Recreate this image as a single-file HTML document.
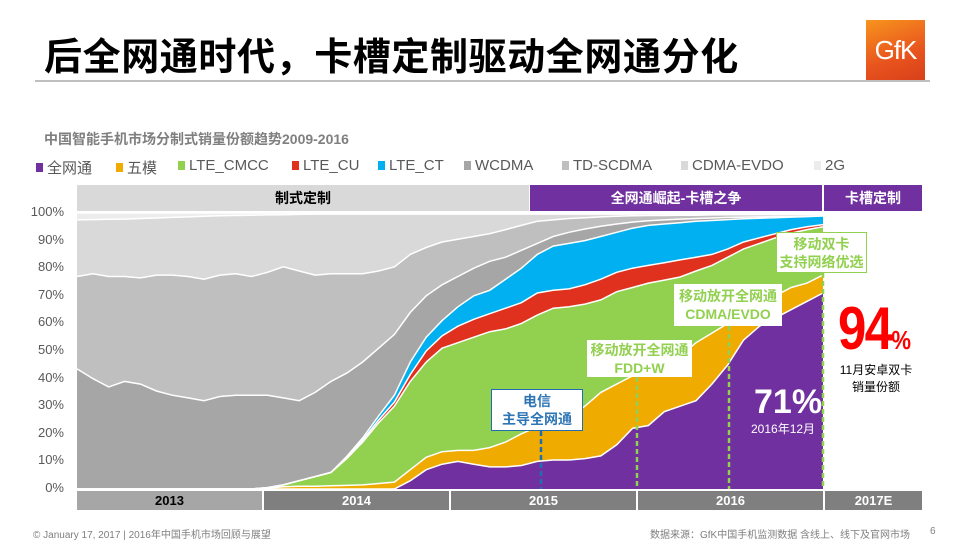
<!DOCTYPE html>
<html><head><meta charset="utf-8">
<style>
*{margin:0;padding:0;box-sizing:border-box}
body{width:960px;height:540px;overflow:hidden;background:#fff;font-family:"Liberation Sans","Noto Sans CJK SC",sans-serif;position:relative}
.abs{position:absolute}
.title{left:44px;top:26px;font-size:38px;font-weight:bold;color:#000;letter-spacing:0.6px;white-space:nowrap}
.rule{left:35px;top:80px;width:895px;height:2px;background:#bfbfbf}
.logo{left:866px;top:20px;width:59px;height:60px;background:linear-gradient(160deg,#f7941d,#e8541e 60%,#d8401a);color:#fff;font-size:26px;display:flex;align-items:center;justify-content:center;letter-spacing:-1px}
.sub{left:44px;top:129px;font-size:14px;font-weight:bold;color:#7f7f7f;white-space:nowrap}
.leg{top:157px;font-size:15px;color:#595959;white-space:nowrap;display:flex;align-items:center}
.leg i{display:inline-block;width:7px;height:9px;margin-right:4px}
.hb{top:185px;height:26px;font-size:14px;font-weight:bold;display:flex;align-items:center;justify-content:center}
.yb{top:491px;height:19px;font-size:13px;font-weight:bold;display:flex;align-items:center;justify-content:center;color:#fff}
.yl{width:40px;text-align:right;left:24px;font-size:13px;color:#595959}
.note{background:#fff;text-align:center;font-weight:bold;font-size:14px;line-height:18px;display:flex;flex-direction:column;justify-content:center}
.foot{top:526px;font-size:10px;color:#7f7f7f;white-space:nowrap}
</style></head><body>
<div class="abs title">后全网通时代，卡槽定制驱动全网通分化</div>
<div class="abs rule"></div>
<div class="abs logo">GfK</div>
<div class="abs sub">中国智能手机市场分制式销量份额趋势2009-2016</div>

<div class="abs leg" style="left:36px"><i style="background:#7030a0"></i>全网通</div>
<div class="abs leg" style="left:116px"><i style="background:#f0ab00"></i>五模</div>
<div class="abs leg" style="left:178px"><i style="background:#92d050"></i>LTE_CMCC</div>
<div class="abs leg" style="left:292px"><i style="background:#e0301e"></i>LTE_CU</div>
<div class="abs leg" style="left:378px"><i style="background:#00b0f0"></i>LTE_CT</div>
<div class="abs leg" style="left:464px"><i style="background:#a6a6a6"></i>WCDMA</div>
<div class="abs leg" style="left:562px"><i style="background:#bfbfbf"></i>TD-SCDMA</div>
<div class="abs leg" style="left:681px"><i style="background:#d9d9d9"></i>CDMA-EVDO</div>
<div class="abs leg" style="left:814px"><i style="background:#ececec"></i>2G</div>

<div class="abs hb" style="left:77px;width:452px;background:#d9d9d9;color:#000">制式定制</div>
<div class="abs hb" style="left:530px;width:292px;background:#7030a0;color:#fff">全网通崛起-卡槽之争</div>
<div class="abs hb" style="left:824px;width:98px;background:#7030a0;color:#fff">卡槽定制</div>

<div class="abs yl" style="top:204px">100%</div>
<div class="abs yl" style="top:232px">90%</div>
<div class="abs yl" style="top:259px">80%</div>
<div class="abs yl" style="top:287px">70%</div>
<div class="abs yl" style="top:314px">60%</div>
<div class="abs yl" style="top:342px">50%</div>
<div class="abs yl" style="top:370px">40%</div>
<div class="abs yl" style="top:397px">30%</div>
<div class="abs yl" style="top:425px">20%</div>
<div class="abs yl" style="top:452px">10%</div>
<div class="abs yl" style="top:480px">0%</div>

<svg class="abs" style="left:0;top:0" width="960" height="540" id="chart"></svg>

<div class="abs yb" style="left:77px;width:185px;background:#a6a6a6;color:#000">2013</div>
<div class="abs yb" style="left:264px;width:185px;background:#7f7f7f">2014</div>
<div class="abs yb" style="left:451px;width:185px;background:#7f7f7f">2015</div>
<div class="abs yb" style="left:638px;width:185px;background:#7f7f7f">2016</div>
<div class="abs yb" style="left:825px;width:97px;background:#7f7f7f">2017E</div>

<div class="abs note" style="left:491px;top:389px;width:92px;height:42px;border:1.5px solid #1f6fb0;color:#2e75b6"><span>电信</span><span>主导全网通</span></div>
<div class="abs note" style="left:587px;top:340px;width:105px;height:37px;color:#92d050"><span>移动放开全网通</span><span>FDD+W</span></div>
<div class="abs note" style="left:674px;top:284px;width:108px;height:42px;color:#92d050"><span>移动放开全网通</span><span>CDMA/EVDO</span></div>
<div class="abs note" style="left:776px;top:232px;width:91px;height:41px;border:1px solid #92d050;color:#92d050"><span>移动双卡</span><span>支持网络优选</span></div>

<div class="abs" style="left:754px;top:383px;font-size:34px;font-weight:bold;color:#fff">71%</div>
<div class="abs" style="left:751px;top:420px;font-size:12px;color:#fff">2016年12月</div>
<div class="abs" style="left:838px;top:294px;font-size:60px;font-weight:bold;color:#ff0000;transform:scaleX(0.85);transform-origin:left;letter-spacing:-2px">94<span style="font-size:26px">%</span></div>
<div class="abs" style="left:826px;top:362px;width:100px;text-align:center;font-size:12px;line-height:17px;color:#000">11月安卓双卡<br>销量份额</div>

<div class="abs foot" style="left:33px">© January 17, 2017 | 2016年中国手机市场回顾与展望</div>
<div class="abs foot" style="left:650px">数据来源：GfK中国手机监测数据 含线上、线下及官网市场</div>
<div class="abs foot" style="left:930px">6</div>

<script>
// months Jan 2013 .. Dec 2016 (48)
const months = Array.from({length:48},(_,i)=>(2013+Math.floor(i/12))+'-'+(i%12+1));
const quanwangtong = [0,0,0,0,0,0,0,0,0,0,0,0,0,0,0,0,0,0,0,0,0,3,7,9,10,9,8,8,8.5,10,10.5,10.5,11,12,16,22,23,28,30,32,38,45,54,59,62,65,68,71];
const wumo = [0,0,0,0,0,0,0,0,0,0,0,0,0.3,0.8,1,1,1.2,1.3,1.5,2,2.5,4,4.5,4.5,4,5,7,9,11.5,12.5,13.5,15.5,19,23,22,19,20,16,18,21,18.5,15,10,8,8,8,6.6,6.5];
const lteCmcc = [0,0,0,0,0,0,0,0,0,0,0,0,0.2,0.7,2,3.5,4.8,9.7,15.5,22,27.5,32,34.5,37.5,39,41,42,41,40,40.5,41.5,40,37,33.5,33.5,32,31.6,31.7,28.8,26,24.5,24,23,22,21,19.7,19.4,17.5];
const lteCu = [0,0,0,0,0,0,0,0,0,0,0,0,0,0,0,0,0,0.3,0.7,1,1.5,2.5,4,4.5,6,6.5,6.5,7.5,7.5,8,6.5,6.5,7,7.5,7,7,6.4,6.3,6.2,5,4,3,2.5,2,1.5,1.3,1,0.8];
const lteCt = [0,0,0,0,0,0,0,0,0,0,0,0,0,0,0,0,0,0.5,0.8,1.5,2.5,4.5,5,5.5,7,8.5,8.5,10.5,12.5,14,16,16.5,16,15.5,14.5,14.5,14.5,14,13.5,13,12.3,10.6,8.4,7.1,5.8,4.5,3.7,3.1];
const wcdma = [43.5,40,37,39,38,35.5,34,33,32,33.5,34,34,33.5,31.5,29,30.5,33,30.2,27.5,24.5,22,18,15,13,11,10,10.5,8,6.5,4,3.5,4,4.2,3.7,3,2.2,1.7,1.5,1.3,1,0.9,0.8,0.6,0.5,0.4,0.3,0.2,0.1];
const tdScdma = [33.5,38,40,38,38.5,42,43.5,44,44,44,44,43,44.5,47.5,47,42.5,39,36,32,28,24.5,21,17.5,15.5,13.5,11.5,10,10,9,8,6,5,4.1,3.4,2.8,2.3,1.9,1.6,1.4,1.2,1.1,1,0.9,0.8,0.7,0.7,0.6,0.5];
const cdmaEvdo = [20.5,19.6,20.7,20.8,21.5,20.7,20.9,21.6,22.8,21.5,21.1,22.2,20.8,18.9,20.5,22.1,21.6,21.6,21.6,20.6,19.1,14.6,12.1,10.1,9.1,8.1,7.1,5.6,4.1,2.6,2.1,1.6,1.3,1,0.8,0.6,0.6,0.5,0.5,0.5,0.5,0.5,0.4,0.4,0.4,0.4,0.4,0.4];
const g2 = [2.5,2.4,2.3,2.2,2,1.8,1.6,1.4,1.2,1,0.9,0.8,0.7,0.6,0.5,0.4,0.4,0.4,0.4,0.4,0.4,0.4,0.4,0.4,0.4,0.3,0.3,0.3,0.3,0.3,0.3,0.3,0.3,0.3,0.2,0.2,0.2,0.2,0.2,0.2,0.2,0.2,0.2,0.2,0.2,0.2,0.2,0.2];
const seriesNames = ['quanwangtong','wumo','lte-cmcc','lte-cu','lte-ct','wcdma','td-scdma','cdma-evdo','2g'];

const svg = document.getElementById('chart');
const NS = 'http://www.w3.org/2000/svg';
const X0 = 77, X1 = 823, Y0 = 489, PXPCT = 2.76;
function xScale(i){ return X0 + i*(X1-X0)/(months.length-1); }
function yScale(v){ return Y0 - v*PXPCT; }
const series = [quanwangtong,wumo,lteCmcc,lteCu,lteCt,wcdma,tdScdma,cdmaEvdo,g2];
const colors = ['#7030a0','#f0ab00','#92d050','#e0301e','#00b0f0','#a6a6a6','#bfbfbf','#d9d9d9','#ececec'];
let base = months.map(()=>0);
const tops = [];
series.forEach((s,k)=>{
  const top = base.map((b,i)=>b+s[i]);
  let d = 'M'+top.map((v,i)=>xScale(i).toFixed(1)+','+yScale(v).toFixed(1)).join('L');
  for(let i=months.length-1;i>=0;i--) d += 'L'+xScale(i).toFixed(1)+','+yScale(base[i]).toFixed(1);
  d += 'Z';
  const p = document.createElementNS(NS,'path');
  p.setAttribute('d',d);
  p.setAttribute('fill',colors[k]);
  
  
  svg.appendChild(p);
  tops.push(top);
  base = top;
});
tops.forEach((top,k)=>{
  const l = document.createElementNS(NS,'polyline');
  l.setAttribute('points', top.map((v,i)=>xScale(i).toFixed(1)+','+yScale(v).toFixed(1)).join(' '));
  l.setAttribute('fill','none');
  l.setAttribute('stroke','#fff');
  l.setAttribute('stroke-width','1.5');
  
  
  svg.appendChild(l);
});
const markers = [[541,431,'#1f6fb0','marker-telecom'],[637,377,'#92d050','marker-fdd-w'],[729,326,'#92d050','marker-cdma-evdo'],[823,273,'#92d050','marker-dual-sim']];
markers.forEach(m=>{
  const ln = document.createElementNS(NS,'line');
  ln.setAttribute('x1',m[0]);ln.setAttribute('x2',m[0]);
  ln.setAttribute('y1',m[1]);ln.setAttribute('y2',Y0);
  ln.setAttribute('stroke',m[2]);ln.setAttribute('stroke-width','2.5');
  ln.setAttribute('stroke-dasharray','5,3');
  
  
  svg.appendChild(ln);
});
</script>
</body></html>
